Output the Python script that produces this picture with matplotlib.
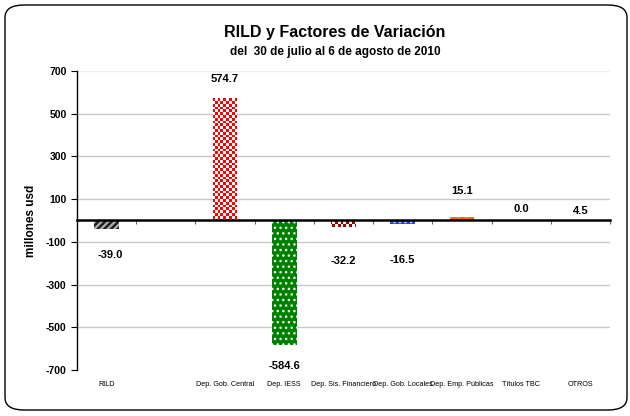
import matplotlib
matplotlib.use("Agg")
import matplotlib.pyplot as plt
from matplotlib.patches import FancyBboxPatch
import matplotlib.transforms as mtransforms
import numpy as np

categories = ["RILD", "", "Dep. Gob. Central", "Dep. IESS", "Dep. Sis. Financiero",
              "Dep. Gob. Locales", "Dep. Emp. Públicas", "Títulos TBC", "OTROS"]
values = [-39.0, np.nan, 574.7, -584.6, -32.2, -16.5, 15.1, 0.0, 4.5]
value_labels = ["-39.0", "", "574.7", "-584.6", "-32.2", "-16.5", "15.1", "0.0", "4.5"]
yticks = [700, 500, 300, 100, -100, -300, -500, -700]

face_colors = ["#b0b0b0", "white", "#ff0000", "#008000", "#990000", "#1f3fff", "#ff6600", "white", "#1f3fff"]
hatch_colors = ["#222222", "white", "white", "#e8ffe8", "white", "#c0c8ff", "#ffa070", "white", "#c0c8ff"]
hatches = ["/////", None, "checker", "...", "checker", "...", "..", None, ".."]
hatch_lw = [1.8, 1.0, 1.0, 1.0, 1.0, 1.0, 1.0, 1.0, 1.0]
label_offsets_pt = [-19, 0, 13.7, -15, -24.5, -25.6, 18.6, 8.6, 5.8]

plt.rcParams['font.family'] = ['Liberation Sans', 'DejaVu Sans']

fig = plt.figure(figsize=(6.3, 4.16), dpi=100)
# rounded border
border = FancyBboxPatch((5/630, 6/416), 622/630, 405/416,
                        boxstyle="round,pad=0,rounding_size=0.03",
                        transform=fig.transFigure, facecolor="none",
                        edgecolor="black", linewidth=1.0)
fig.patches.append(border)

ax = fig.add_axes([77/630, 1 - 370/416, 533/630, 299/416])
x = np.arange(len(categories))

# checkerboard texture (white cells over the bar colour)
ny, nx = 107, 190
cells = np.add.outer(np.arange(ny), np.arange(nx)) % 2
checker_rgba = np.zeros((ny, nx, 4))
checker_rgba[cells == 1] = [1, 1, 1, 1]

for i, v in enumerate(values):
    if np.isnan(v):
        continue
    h = hatches[i]
    if h == "checker":
        bars = ax.bar(x[i], v, width=0.42, color=face_colors[i], linewidth=0, zorder=3)
        im = ax.imshow(checker_rgba, extent=(0, 1, 0, 1), transform=ax.transAxes,
                       interpolation="nearest", aspect="auto", zorder=3.5)
        im.set_clip_path(bars.patches[0])
    else:
        with plt.rc_context({'hatch.linewidth': hatch_lw[i]}):
            ax.bar(x[i], v, width=0.42, color=face_colors[i], edgecolor=hatch_colors[i],
                   hatch=h, linewidth=0, zorder=3)

for i, v in enumerate(values):
    if np.isnan(v) or not value_labels[i]:
        continue
    ax.annotate(value_labels[i], xy=(x[i], v), xytext=(3 if i == 0 else 0, label_offsets_pt[i]),
                textcoords="offset points", ha="center", va="center",
                fontsize=8, fontweight="bold", zorder=5)

ax.set_xlim(-0.5, len(categories) - 0.5)
ax.set_ylim(-700, 700)
ax.set_yticks(yticks)
ax.set_yticklabels([str(t) for t in yticks], fontsize=7.5, fontweight="bold")
for t in yticks:
    if abs(t) == 700:
        ax.axhline(t, color="#eeeeee", linewidth=1.0, zorder=0)
    else:
        ax.axhline(t, color="#c8c8c8", linewidth=1.0, zorder=0)

for s in ["top", "right"]:
    ax.spines[s].set_visible(False)
ax.spines["left"].set_linewidth(1.0)
ax.spines["bottom"].set_position(("data", 0))
ax.spines["bottom"].set_linewidth(1.8)
ax.spines["bottom"].set_zorder(4)

ax.set_xticks(x + 0.5)
ax.set_xticklabels([])
ax.tick_params(axis="x", direction="out", length=3, width=0.8, color="#666666")
ax.tick_params(axis="y", direction="out", length=4, width=0.8)

trans = mtransforms.blended_transform_factory(ax.transData, ax.transAxes)
for i, c in enumerate(categories):
    ax.text(x[i], -15/299, c, transform=trans, ha="center", va="center", fontsize=5.2)

ax.set_ylabel("millones usd", fontsize=8.5, fontweight="bold", labelpad=6)

fig.text(335/630, 1 - 33/416, "RILD y Factores de Variación", ha="center", va="center",
         fontsize=11.5, fontweight="bold")
fig.text(335/630, 1 - 52/416, "del  30 de julio al 6 de agosto de 2010", ha="center", va="center",
         fontsize=8.5, fontweight="bold")

fig.savefig("out.png", dpi=100)
